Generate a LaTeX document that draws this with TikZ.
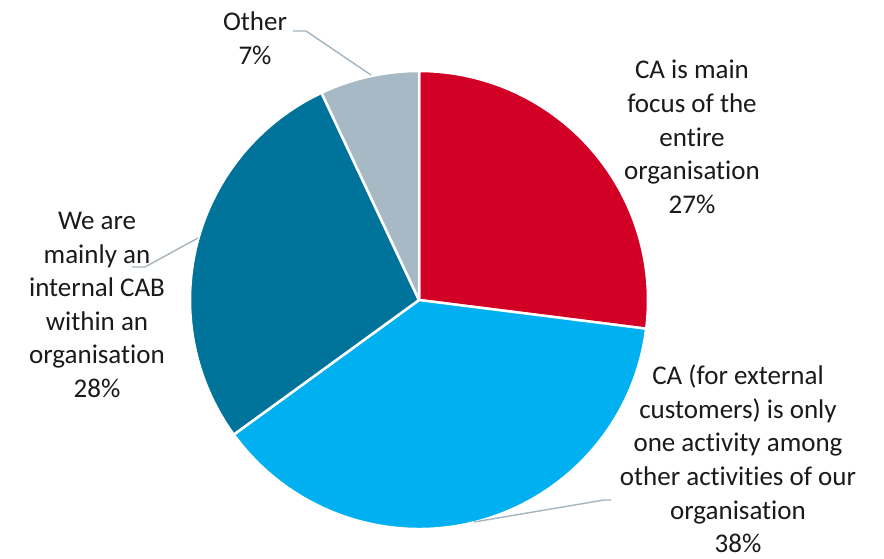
\documentclass[tikz,border=0pt]{standalone}
\usepackage{fontspec}
\setmainfont{Carlito}[Ligatures=NoCommon]
\definecolor{cared}{HTML}{D20024}
\definecolor{calblue}{HTML}{00B0F0}
\definecolor{cadblue}{HTML}{00739A}
\definecolor{cagrey}{HTML}{A6B9C5}
\definecolor{caline}{HTML}{A3B5C0}
\definecolor{catext}{HTML}{1A1A1A}
\begin{document}
\begin{tikzpicture}[x=1pt,y=-1pt,
  slice/.style={draw=white,line width=2.5pt,line join=round},
  lbl/.style={align=center,font=\fontsize{27}{33.6}\selectfont,text=catext,inner sep=0pt},
  leader/.style={draw=caline,line width=1.4pt}]
\useasboundingbox[fill=white] (0,0) rectangle (884,558);
\coordinate (c) at (419,300);
% slices
\path[fill=cared,slice] (c) -- ++(90:229pt) arc[start angle=90,end angle=-7.2,radius=229pt] -- cycle;
\path[fill=calblue,slice] (c) -- ++(-7.2:229pt) arc[start angle=-7.2,end angle=-144,radius=229pt] -- cycle;
\path[fill=cadblue,slice] (c) -- ++(-144:229pt) arc[start angle=-144,end angle=-244.8,radius=229pt] -- cycle;
\path[fill=cagrey,slice] (c) -- ++(115.2:229pt) arc[start angle=115.2,end angle=90,radius=229pt] -- cycle;
% labels
\node[lbl] (l27) at (692,137) {CA is main\\focus of the\\entire\\organisation\\27\%};
\node[lbl] (l38) at (738,459) {CA (for external\\customers) is only\\one activity among\\other activities of our\\organisation\\38\%};
\node[lbl] (l28) at (97,305) {We are\\mainly an\\internal CAB\\within an\\organisation\\28\%};
\node[lbl] (l7) at (255,38) {Other\\7\%};
% leader lines
\coordinate (o1) at (371,75);
\coordinate (o2) at (306,31);
\coordinate (o3) at (293,31);
\draw[leader] (o1) -- (o2) -- (o3);
\coordinate (b1) at (474,522);
\coordinate (b2) at (604,500);
\coordinate (b3) at (611,500);
\draw[leader] (b1) -- (b2) -- (b3);
\coordinate (d1) at (198,238);
\coordinate (d2) at (145,267);
\coordinate (d3) at (132,267);
\draw[leader] (d1) -- (d2) -- (d3);
\end{tikzpicture}
\end{document}
